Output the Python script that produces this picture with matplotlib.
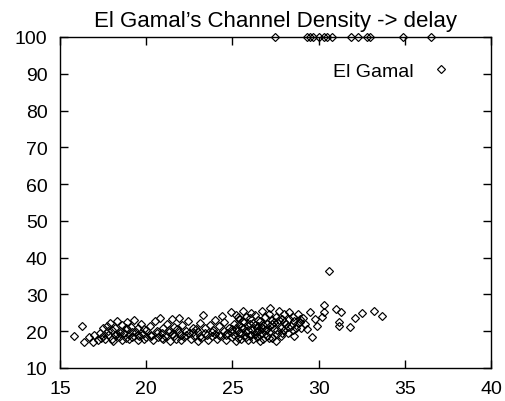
import matplotlib
matplotlib.use("Agg")
import matplotlib.pyplot as plt

plt.rcParams['font.family'] = ['Liberation Sans', 'DejaVu Sans']

title = "El Gamal\u2019s Channel Density -> delay"
series_label = "El Gamal"
x_ticks = [15, 20, 25, 30, 35, 40]
y_ticks = [10, 20, 30, 40, 50, 60, 70, 80, 90, 100]

pts = [
    (15.8,18.8),(16.3,21.4),(16.4,17.2),(16.9,17.0),(16.7,18.5),(17.0,19.0),
    (17.2,17.5),(17.3,19.5),(17.4,18.2),(17.5,20.8),(17.6,17.8),(17.7,21.5),(17.8,19.0),(17.9,22.3),(18.0,18.0),(18.0,20.2),
    (18.1,17.4),(18.2,21.0),(18.3,19.2),(18.3,22.8),(18.4,18.4),(18.5,20.0),(18.6,17.6),(18.6,21.8),(18.7,19.5),(18.8,18.2),(18.9,22.6),(18.9,20.5),(19.0,17.9),(19.0,19.0),
    (19.1,21.2),(19.2,18.5),(19.3,23.0),(19.4,19.8),(19.5,17.5),(19.5,20.8),(19.6,18.8),(19.7,22.0),(19.8,19.2),(19.9,17.8),(20.0,20.3),(20.0,18.3),
    (20.2,21.5),(20.3,19.0),(20.4,17.6),(20.5,22.7),(20.6,20.0),(20.7,18.4),(20.8,23.6),(20.9,19.5),(21.0,21.0),(21.0,17.9),
    (21.1,18.8),(21.2,22.0),(21.3,20.2),(21.4,17.4),(21.5,23.2),(21.5,19.3),(21.6,21.2),(21.7,18.0),(21.8,20.6),(21.9,23.7),(22.0,19.0),(22.0,17.6),
    (22.1,21.8),(22.2,18.5),(22.3,20.0),(22.4,22.7),(22.5,19.4),(22.6,17.9),(22.7,21.0),(22.8,18.8),(22.9,20.5),(23.0,17.3),(23.0,19.8),
    (23.1,22.3),(23.2,18.2),(23.3,24.4),(23.4,20.8),(23.5,19.0),(23.6,17.6),(23.7,21.6),(23.8,18.7),(23.9,20.2),(24.0,23.0),(24.0,19.3),
    (24.1,17.8),(24.2,21.4),(24.3,18.6),(24.4,24.2),(24.5,20.0),(24.5,22.5),(24.6,17.5),(24.7,19.4),(24.8,21.0),(24.9,25.2),(25.0,18.3),(25.0,20.6),
    (25.1,22.0),(25.1,19.0),(25.2,17.4),(25.2,24.5),(25.3,20.3),(25.3,18.1),(25.4,21.8),(25.4,23.2),(25.5,19.5),(25.5,17.8),(25.6,25.6),(25.6,20.8),(25.7,18.6),(25.7,22.6),(25.8,24.0),(25.8,19.9),(25.9,17.6),(25.9,21.4),(26.0,23.5),(26.0,18.9),
    (26.1,20.5),(26.1,25.0),(26.2,22.2),(26.2,17.9),(26.3,19.3),(26.3,24.3),(26.4,21.0),(26.4,18.4),(26.5,23.0),(26.5,20.0),(26.6,17.4),(26.6,22.8),(26.7,19.6),(26.7,25.4),(26.8,21.6),(26.8,17.9),(26.9,23.8),(26.9,20.2),(27.0,18.6),(27.0,22.0),
    (27.1,24.6),(27.1,19.8),(27.2,21.3),(27.2,26.2),(27.3,18.2),(27.3,23.0),(27.4,20.6),(27.5,17.4),(27.5,24.0),(27.6,22.4),(27.6,19.2),(27.7,25.6),(27.8,21.0),(27.8,18.7),(27.9,23.4),(28.0,20.2),(28.0,24.8),
    (28.1,22.0),(28.2,19.5),(28.3,25.2),(28.4,21.5),(28.5,23.8),(28.6,18.8),(28.7,20.8),(28.8,24.6),(28.9,22.4),(29.0,21.0),
    (29.1,23.6),(29.3,20.5),(29.5,25.2),(29.6,18.5),(29.8,23.4),(29.9,21.5),(30.2,23.9),(30.3,25.3),(30.3,27.2),(31.0,26.1),(31.3,25.3),(31.2,22.6),(31.2,21.5),(31.8,21.2),(32.1,23.6),(32.5,25.0),(33.2,25.5),(33.7,24.2),
    (17.5,18.6),(17.8,20.1),(18.2,18.9),(18.5,19.4),(18.8,20.9),(19.2,19.9),(19.5,18.9),(19.9,20.6),(20.3,18.6),(20.6,19.6),(20.9,18.2),(21.3,19.7),(21.6,18.6),(21.9,19.9),(22.3,18.9),(22.7,19.7),(23.1,18.8),(23.4,19.6),(23.8,19.9),(24.2,19.1),(24.6,18.9),(24.9,19.8),(25.2,20.9),(25.5,21.1),(25.8,18.4),(26.1,19.1),(26.4,19.8),(26.7,20.9),(27.0,20.5),(27.3,21.9),(27.6,20.2),(27.9,19.6),(28.2,21.2),(28.5,20.4),(28.8,22.1),(25.4,19.6),(25.9,20.3),(26.3,21.7),(26.6,18.9),(27.1,18.1),(27.4,22.5),(27.7,23.1),(28.0,22.6),(28.3,23.3),(28.6,22.9),(28.9,23.2),(29.2,22.0),(26.0,21.9),(26.5,21.3),(25.6,22.9),(25.3,23.8),
    (30.6,36.4),
]
x_top = [27.47, 29.3, 29.5, 29.7, 30.0, 30.3, 30.5, 30.8, 31.9, 32.3, 32.8, 33.0, 34.9, 36.5]
y_top = [100] * len(x_top)

x_vals = [p[0] for p in pts] + x_top
y_vals = [p[1] for p in pts] + y_top

fig = plt.figure(figsize=(5.06, 4.02), dpi=100)
ax = fig.add_axes([60/506, 33/402, 431/506, 331/402])
ax.plot(x_vals, y_vals, linestyle='none', marker='D', markersize=4.3,
        markerfacecolor='none', markeredgecolor='black', markeredgewidth=0.85,
        clip_on=False, label=series_label)
ax.set_xlim(15, 40)
ax.set_ylim(10, 100)
ax.set_xticks(x_ticks)
ax.set_yticks(y_ticks)
ax.tick_params(direction='in', length=6, width=1, top=True, right=True,
               labelsize=14)
ax.tick_params(axis='x', pad=9)
ax.tick_params(axis='y', pad=9)
for s in ax.spines.values():
    s.set_linewidth(1)
ax.set_title(title, fontsize=16, pad=8)
leg = ax.legend(loc='upper right', frameon=False, fontsize=14, markerfirst=False,
                handlelength=1.0, handletextpad=0.9, borderaxespad=0.0,
                borderpad=0.4, bbox_to_anchor=(0.924, 0.946))
fig.savefig("out.png", dpi=100)
